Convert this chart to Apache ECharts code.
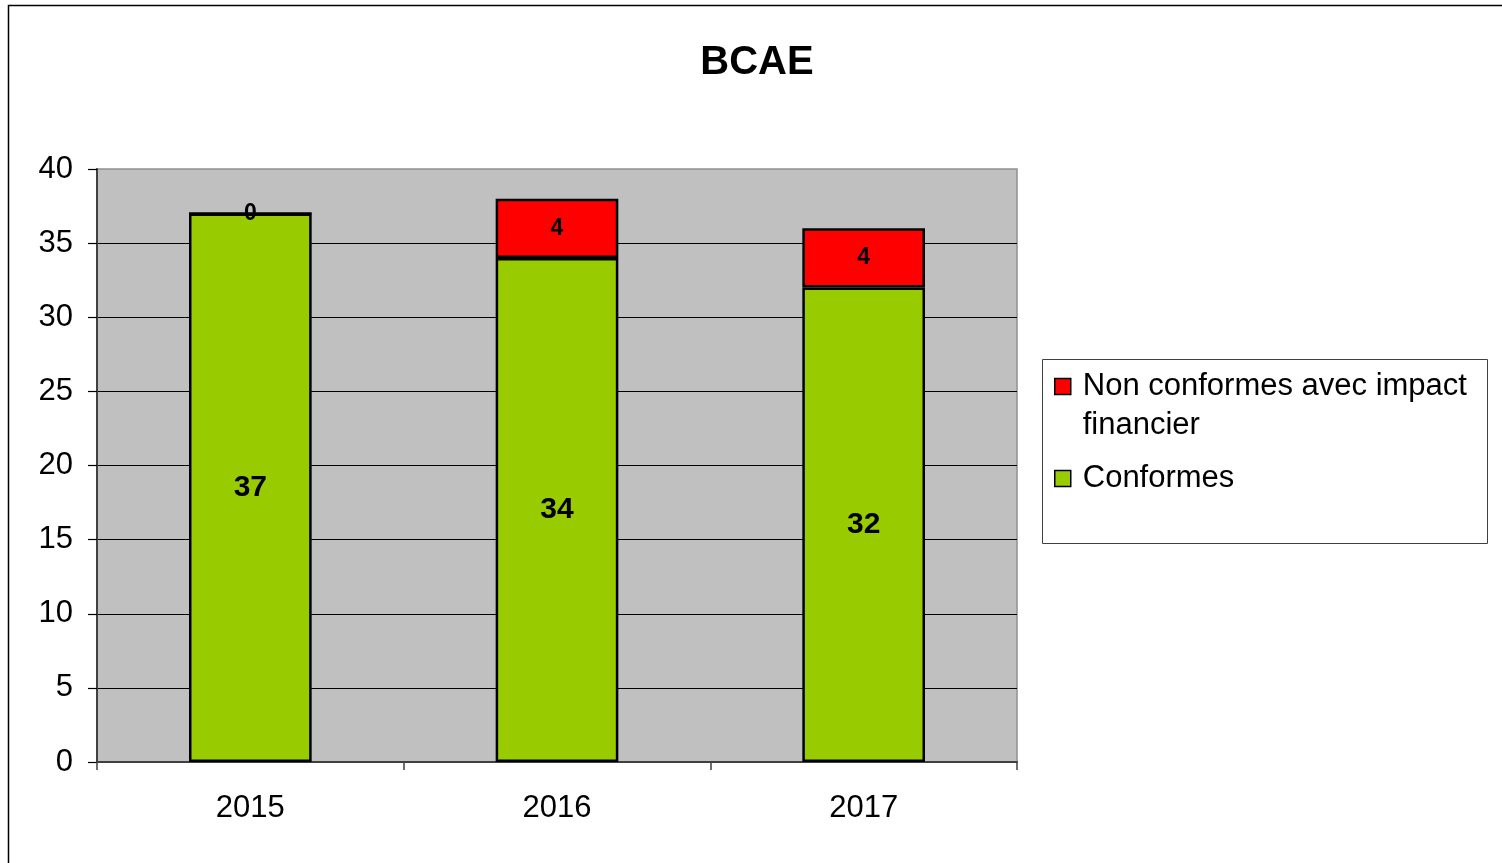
<!DOCTYPE html>
<html>
<head>
<meta charset="utf-8">
<title>BCAE</title>
<script src="https://cdn.jsdelivr.net/npm/echarts@6/dist/echarts.min.js"></script>
<style>
  html, body { margin: 0; padding: 0; background: #fff; }
  #chart { width: 1502px; height: 863px; }
</style>
</head>
<body>
<div id="chart"></div>
<script>
// données
var categories = ['2015', '2016', '2017'];
var conformes = [37, 34, 32];
var nonConformes = [0, 4, 4];
var yTicks = { min: 0, max: 40, interval: 5 };

var FONT = '"Liberation Sans", Arial, sans-serif';
var NOM_NC = 'Non conformes avec impact\nfinancier';

var myChart = echarts.init(document.getElementById('chart'));

var option = {
    backgroundColor: '#fff',
    animation: false,
    title: {
        text: 'BCAE',
        left: 757,
        top: 43,
        textAlign: 'center',
        padding: 0,
        textStyle: { fontFamily: FONT, fontSize: 40, fontWeight: 'bold', color: '#000' }
    },
    graphic: [
        // cadre extérieur
        { type: 'rect', silent: true, z: -1,
          shape: { x: 8.5, y: 5.5, width: 1600, height: 1000 },
          style: { fill: null, stroke: '#000', lineWidth: 1.5 } },
        // cadre de la légende
        { type: 'rect', silent: true,
          shape: { x: 1042.5, y: 359.5, width: 445, height: 184 },
          style: { fill: '#fff', stroke: '#404040', lineWidth: 1 } }
    ],
    legend: {
        orient: 'vertical',
        left: 1054,
        top: 328,
        padding: 0,
        itemGap: 14,
        itemWidth: 16,
        itemHeight: 16,
        icon: 'rect',
        itemStyle: { borderColor: '#000', borderWidth: 1.5 },
        textStyle: { fontFamily: FONT, fontSize: 31, lineHeight: 39, color: '#000',
                     padding: [0, 0, 0, 7] },
        // ligne vide en tête pour aligner la 1re ligne sur le carré
        formatter: function (name) {
            return name === NOM_NC ? ' \n' + name : name;
        },
        data: [NOM_NC, 'Conformes']
    },
    grid: {
        left: 97, top: 169, width: 920, height: 593,
        show: true,
        backgroundColor: '#C0C0C0',
        borderColor: '#909090',
        borderWidth: 1.5
    },
    xAxis: {
        type: 'category',
        data: categories,
        axisLine: { lineStyle: { color: '#404040', width: 2 } },
        axisTick: { show: true, length: 8, lineStyle: { color: '#404040', width: 1.5 } },
        axisLabel: { fontFamily: FONT, fontSize: 31, color: '#000', margin: 31 }
    },
    yAxis: {
        type: 'value',
        min: yTicks.min,
        max: yTicks.max,
        interval: yTicks.interval,
        axisLine: { show: true, lineStyle: { color: '#404040', width: 2 } },
        axisTick: { show: true, length: 9, lineStyle: { color: '#000', width: 1.2 } },
        axisLabel: { fontFamily: FONT, fontSize: 31, color: '#000', margin: 24 },
        splitLine: { show: true, showMaxLine: false, lineStyle: { color: '#000', width: 1 } }
    },
    series: [
        {
            name: 'Conformes',
            type: 'bar',
            stack: 'total',
            barWidth: '40%',
            data: conformes,
            itemStyle: { color: '#99CC00', borderColor: '#000', borderWidth: 2.5 },
            label: { show: true, position: 'inside', fontFamily: FONT, fontSize: 30,
                     fontWeight: 'bold', color: '#000' }
        },
        {
            name: NOM_NC,
            type: 'bar',
            stack: 'total',
            barWidth: '40%',
            data: nonConformes,
            itemStyle: { color: '#FF0000', borderColor: '#000', borderWidth: 2.5 },
            label: { show: true, position: 'inside', fontFamily: FONT, fontSize: 23,
                     fontWeight: 'bold', color: '#000' }
        }
    ]
};

myChart.setOption(option);
</script>
</body>
</html>
